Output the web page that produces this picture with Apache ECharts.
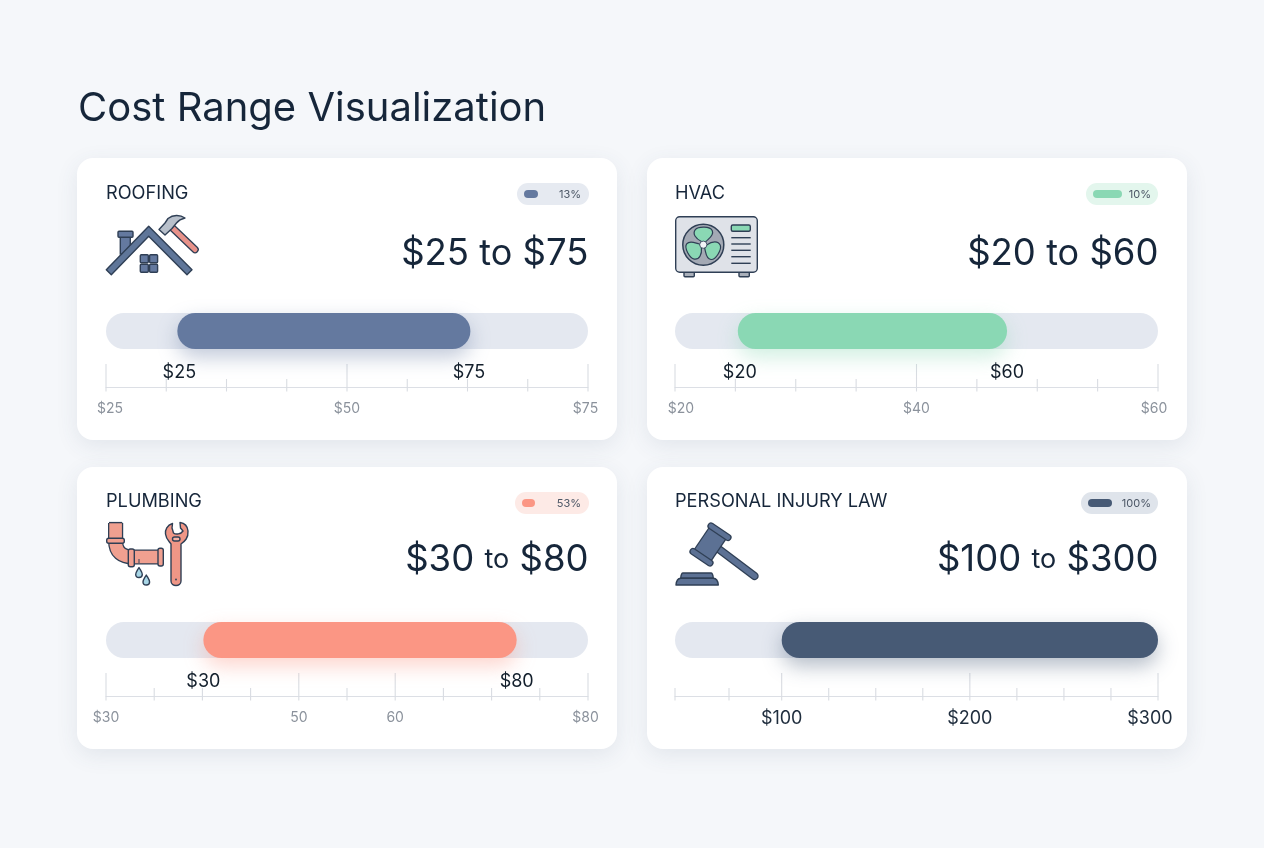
<!DOCTYPE html>
<html><head><meta charset="utf-8">
<style>html,body{margin:0;padding:0;background:#f5f7fa}#c{width:1264px;height:848px}</style>
<script src="https://cdn.jsdelivr.net/npm/echarts@6/dist/echarts.min.js"></script>
</head><body><div id="c"></div>
<script>
// ---- data ----
const names = ['ROOFING','HVAC','PLUMBING','PERSONAL INJURY LAW'];
const priceLow = ['$25','$20','$30','$100'];
const priceHigh = ['$75','$60','$80','$300'];
const pctLabels = ['13%','10%','53%','100%'];
const axisMin = [25,20,30,43.3];
const axisMax = [75,60,80,300];
// bar ends in each axis's own units (where the bar sits on the printed scale)
const barStart = [32.4,25.2,40.1,100];
const barEnd = [62.8,47.5,72.6,300];
const ticksRoofing = [25,31.25,37.5,43.75,50,56.25,62.5,68.75,75];
const ticksHvac = [20,25,30,35,40,45,50,55,60];
const ticksPlumbing = [30,35,40,45,50,55,60,65,70,75,80];
const ticksLaw = [43.3,72,100,125,150,175,200,225,250,275,300];
const majorRoofing = [25,50,75];
const majorHvac = [20,40,60];
const majorPlumbing = [30,50,60,80];
const majorLaw = [100,200,300];
const labelsRoofing = ['$25','$50','$75'];
const labelsHvac = ['$20','$40','$60'];
const labelsPlumbing = ['$30','50','60','$80'];
const labelsLaw = ['$100','$200','$300'];
// ---- styling ----
const ticks=[ticksRoofing,ticksHvac,ticksPlumbing,ticksLaw];
const majors=[majorRoofing,majorHvac,majorPlumbing,majorLaw];
const tickLabels=[labelsRoofing,labelsHvac,labelsPlumbing,labelsLaw];
const colors=['#64799f','#8ad8b4','#fb9684','#475a75'];
const pillBg=['#e6eaf1','#e3f6ed','#fdeae6','#dfe4eb'];
const pillMini=[[524,14],[1093,29],[522,13],[1088,24]];
const pillX=[517,1086,515,1081];
const cards=[[77,158],[647,158],[77,467],[647,467]];
const INK='#16263a', LINE='#2f3f55', F='Inter, "Noto Sans", sans-serif', TRACK='#e4e8f0';
const labelPad=[[8,5,0],[12,8,0],[0,5,0],[0,16,0]];
const rangeShift=[[0,-1.5],[0,0],[-2,0],[0,0]];

const graphic=[], icons=[];
const add=e=>{graphic.push(Object.assign({z:5,silent:true},e));};
const ic=e=>{icons.push(e);};
const rect=(x1,y1,x2,y2,fill,r,sw,st)=>ic({type:'rect',shape:{x:x1,y:y1,width:x2-x1,height:y2-y1,r:r||0},style:{fill:fill,stroke:sw===0?null:(st||LINE),lineWidth:sw===undefined?1.4:sw}});
const path=(d,fill,sw,st)=>ic({type:'path',shape:{pathData:d},style:{fill:fill,stroke:st||LINE,lineWidth:sw===undefined?1.4:sw,lineJoin:'round'}});
const thick=(d,w,fill,cap)=>{ic({type:'path',shape:{pathData:d},style:{fill:null,stroke:LINE,lineWidth:w+2.6,lineCap:cap||'round',lineJoin:'round'}});ic({type:'path',shape:{pathData:d},style:{fill:null,stroke:fill,lineWidth:w,lineCap:cap||'round',lineJoin:'round'}});};
add({type:'text',x:78,y:109,style:{text:'Cost Range Visualization',font:'400 40px '+F,fill:INK,textVerticalAlign:'middle'}});
cards.forEach((c,i)=>{
  graphic.push({type:'rect',z:-10,silent:true,shape:{x:c[0],y:c[1],width:540,height:282,r:16},style:{fill:'#fff',shadowBlur:22,shadowColor:'rgba(60,80,110,0.10)',shadowOffsetY:6}});
  add({type:'text',x:c[0]+(i%2?28:29),y:c[1]+(i<2?36:35),style:{text:names[i],font:'400 18.2px '+F,fill:INK,textVerticalAlign:'middle'}});
  const right=c[0]+511, py=c[1]+25;
  rect(pillX[i],py,i%2?right:right+1,py+22,pillBg[i],11,0);
  rect(pillMini[i][0],py+7,pillMini[i][0]+pillMini[i][1],py+15,colors[i],4,0);
  ic({type:'text',x:right-7,y:py+11.5,style:{text:pctLabels[i],font:'400 11px '+F,fill:'#4b5665',textAlign:'right',textVerticalAlign:'middle'}});
  const big=36.5, to=i<2?36:27, vy=i<2?c[1]+96:c[1]+93;
  add({type:'text',x:right+0.5,y:vy,style:{text:'{a|'+priceLow[i]+'} {b|to} {a|'+priceHigh[i]+'}',font:'400 '+big+'px '+F,fill:INK,textAlign:'right',textVerticalAlign:'middle',
    rich:{a:{font:'400 '+big+'px '+F,fill:INK},b:{font:'400 '+to+'px '+F,fill:INK}}}});
});
// roofing icon
rect(120.3,236,130.3,254,'#64799f');
rect(118,231.3,133,237.3,'#64799f',1);
path('M148.7,226.3 L106.3,269.7 L111.3,274.7 L148.7,236.3 L187,274.7 L192,269.7 Z','#5f7699');
[[140.3,254.7],[149.6,254.7],[140.3,264.2],[149.6,264.2]].forEach(p=>rect(p[0],p[1],p[0]+8,p[1]+8,'#64799f',1));
thick('M172,227.5 L195,249.5',5,'#e8928a');
path('M159,229.5 L165,235 L172,228.5 L176.5,223 C178.5,220.5 181,219 185,218 C180,214.5 173,214.5 168,218.5 L165,223 Z','#b8c0cb');
// hvac icon
rect(684,272,694.3,276.7,'#aab0ba',1);rect(739,272,749.3,276.7,'#aab0ba',1);
rect(675.7,216.7,757.3,272.3,'#dfe2e8',4);
ic({type:'circle',shape:{cx:703.3,cy:244.7,r:20.5},style:{fill:'#a3a9b4',stroke:LINE,lineWidth:1.5}});
[0,2.094,4.189].forEach(a=>{
  const cs=Math.cos(a),sn=Math.sin(a);
  const P=(x,y)=>(703.3+x*cs+y*sn).toFixed(2)+','+(244.7-x*sn+y*cs).toFixed(2);
  path('M'+P(-1.5,-3)+' C'+P(-8,-6)+' '+P(-11,-11)+' '+P(-8,-15)+' C'+P(-5,-18.5)+' '+P(7,-18.5)+' '+P(9,-14)+' C'+P(11,-9)+' '+P(5,-6)+' '+P(2.5,-3)+' Z','#8ad8b4',1.2);
});
ic({type:'circle',shape:{cx:703.3,cy:244.7,r:3.6},style:{fill:'#f2f4f7',stroke:LINE,lineWidth:0.8}});
rect(731.3,225,750.3,231.3,'#8ad8b4',1.5);
[237.7,244,250.3,256.7,263.3].forEach(y=>ic({type:'line',shape:{x1:731.3,y1:y,x2:750.7,y2:y},style:{stroke:LINE,lineWidth:1.4}}));
// plumbing icon
thick('M115.6,523 L115.6,541 C115.6,552 122,557 133,557 L158,557',12.6,'#f0a090','butt');
ic({type:'line',shape:{x1:109,y1:522.6,x2:122.3,y2:522.6},style:{stroke:LINE,lineWidth:1.4}});
rect(106.7,538.3,124.3,543.3,'#f0a090',2);
rect(128.3,549,134.3,566.7,'#f0a090',2);
rect(158,548.3,163.3,566,'#f0a090',2);
ic({type:'line',shape:{x1:139,y1:559,x2:139,y2:563},style:{stroke:LINE,lineWidth:1}});
path('M139,567.5 C137,571 135.7,572.5 135.7,574.5 C135.7,578.5 142.3,578.5 142.3,574.5 C142.3,572.5 141,571 139,567.5 Z','#a8d6e6');
path('M146.3,575 C144.3,578.5 143,580 143,582 C143,586 149.6,586 149.6,582 C149.6,580 148.3,578.5 146.3,575 Z','#a8d6e6');
path('M172.5,523.5 C167,525 165,530 165.5,534 C166,539 169,541 171,544 L171,581 C171,587 181,587 181,581 L181,544 C185,541 188.5,538 188,531 C187.5,526 184,523 180,522.5 L180.5,528 L183,531 C181,534 176,535 173.5,533 L172,528 Z','#ef9686');
rect(172.5,537,180,541,'#f6b3a6',2);
ic({type:'circle',shape:{cx:176,cy:579.5,r:0.9},style:{fill:LINE}});
// gavel icon
thick('M716,547 L754.5,576',5.8,'#5c7194');
thick('M719.3,530.7 L701.7,556.7',19,'#5c7194','butt');
thick('M711,526 L728,537.5',4.6,'#5c7194');
thick('M693,551.5 L710,563',4.6,'#5c7194');
path('M683,573 C681.5,573 681,575 680.7,578.3 L713.3,578.3 C713,575 712.5,573 711,573 Z','#5c7194');
path('M680.7,578.3 C678,578.5 676.3,581 676,585 L718.3,585 C718,581 716,578.5 713.3,578.3 Z','#5c7194');

const grids=[],xAxes=[],yAxes=[],series=[];
const gridTop=[313,313,622,622], gridLeft=[106,675,106,675], gridW=[482,483,482,483];
names.forEach((n,i)=>{
  const law=i===3;
  grids.push({left:gridLeft[i],top:gridTop[i],width:gridW[i],height:74,containLabel:false});
  const pads=labelPad[i], vals=majors[i], lbls=tickLabels[i];
  const rich={l:{padding:[0,0,0,pads[0]]},r:{padding:[0,pads[1],0,0]},m:{}};
  xAxes.push({gridIndex:i,type:'value',min:axisMin[i],max:axisMax[i],splitLine:{show:false},axisTick:{show:false},
    axisLine:{onZero:false,lineStyle:{color:'#dcdfe5',width:1.2}},
    axisLabel:{customValues:vals,hideOverlap:false,margin:law?14:15,color:law?'#1f2d3d':'#8b929c',fontFamily:F,fontSize:law?18:14,
      formatter:v=>{const k=vals.indexOf(v);const s=lbls[k];const cls=k===0?'l':(k===vals.length-1?'r':'m');return '{'+cls+'|'+s+'}';},rich:rich}});
  yAxes.push({gridIndex:i,type:'value',min:0,max:1,show:false});
  const trackItem=(fill,extra)=>(params,api)=>{
    const a=api.coord([api.value(0),0]),b=api.coord([api.value(1),0]),s=params.coordSys;
    return {type:'rect',shape:{x:a[0],y:s.y,width:b[0]-a[0],height:36,r:18},style:Object.assign({fill:fill},extra||{})};
  };
  series.push({type:'custom',xAxisIndex:i,yAxisIndex:i,silent:true,z:2,clip:false,encode:{x:[0,1]},data:[[axisMin[i],axisMax[i]]],renderItem:trackItem(TRACK)});
  series.push({type:'custom',xAxisIndex:i,yAxisIndex:i,silent:true,z:4,clip:false,encode:{x:[0,1]},data:[[barStart[i],barEnd[i]]],
    renderItem:trackItem(colors[i],{shadowBlur:20,shadowColor:colors[i]+'66',shadowOffsetY:8})});
  series.push({type:'custom',xAxisIndex:i,yAxisIndex:i,silent:true,z:3,clip:false,encode:{x:0},data:ticks[i].map(v=>[v]),
    renderItem:(params,api)=>{
      const v=api.value(0),p=api.coord([v,0]),s=params.coordSys,base=s.y+s.height;
      return {type:'line',shape:{x1:p[0],y1:base-(majors[i].includes(v)?23:8),x2:p[0],y2:base+4.5},style:{stroke:'#d9dce2',lineWidth:1.1}};
    }});
  if(!law){
    series.push({type:'custom',xAxisIndex:i,yAxisIndex:i,silent:true,z:5,clip:false,encode:{x:0},data:[[barStart[i]],[barEnd[i]]],
      renderItem:(params,api)=>{
        const p=api.coord([api.value(0),0]),s=params.coordSys,k=params.dataIndex;
        const t=k===0?priceLow[i]:priceHigh[i];
        return {type:'text',x:p[0]+(k===0?2:0)+rangeShift[i][k],y:s.y+s.height-14.5,style:{text:t,font:'400 18px '+F,fill:'#131f2c',textAlign:'center',textVerticalAlign:'middle'}};
      }});
  }
});
series.push({type:'custom',coordinateSystem:'none',silent:true,z:6,clip:false,data:[[0]],renderItem:()=>({type:'group',children:icons})});
const chart=echarts.init(document.getElementById('c'),null,{renderer:'canvas'});
chart.setOption({animation:false,backgroundColor:'#f5f7fa',tooltip:{show:false},grid:grids,xAxis:xAxes,yAxis:yAxes,series:series,graphic:{elements:graphic}});
</script></body></html>
